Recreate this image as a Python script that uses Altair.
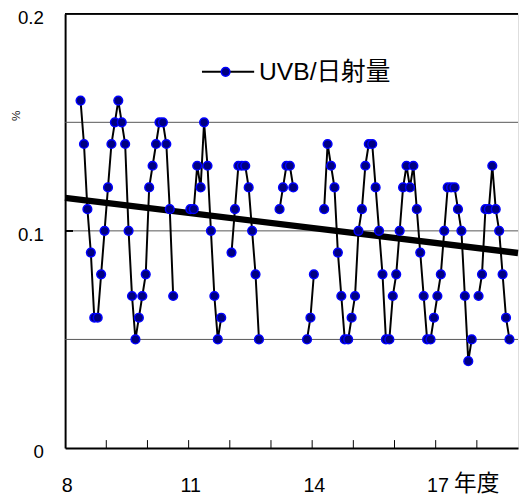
import altair as alt
import pandas as pd

# ---- data ----
first_fy = 8                      # fiscal year of month index 0 (April)
n_months = 132                    # FY8 .. FY18
label_months = [0, 36, 72, 108]
label_texts = ["8", "11", "14", "17"]
y_label_values = [0, 0.1, 0.2]
grid_values = [0.05, 0.1, 0.15]

# monthly UVB / global radiation ratio (%), None = missing month
ratio = [None, None, None, None,
         0.16, 0.14, 0.11, 0.09, 0.06, 0.06, 0.08, 0.10,
         0.12, 0.14, 0.15, 0.16, 0.15, 0.14, 0.10, 0.07, 0.05, 0.06, 0.07, 0.08,
         0.12, 0.13, 0.14, 0.15, 0.15, 0.14, 0.11, 0.07, None, None, None, None,
         0.11, 0.11, 0.13, 0.12, 0.15, 0.13, 0.10, 0.07, 0.05, 0.06, None, None,
         0.09, 0.11, 0.13, 0.13, 0.13, 0.12, 0.10, 0.08, 0.05, None, None, None,
         None, None, 0.11, 0.12, 0.13, 0.13, 0.12, None, None, None, 0.05, 0.06,
         0.08, None, None, 0.11, 0.14, 0.13, 0.12, 0.09, 0.07, 0.05, 0.05, 0.06,
         0.07, 0.10, 0.11, 0.13, 0.14, 0.14, 0.12, 0.10, 0.08, 0.05, 0.05, 0.07,
         0.08, 0.10, 0.12, 0.13, 0.12, 0.13, 0.11, 0.09, 0.07, 0.05, 0.05, 0.06,
         0.07, 0.08, 0.10, 0.12, 0.12, 0.12, 0.11, 0.10, 0.07, 0.04, 0.05, None,
         0.07, 0.08, 0.11, 0.11, 0.13, 0.11, 0.10, 0.08, 0.06, 0.05]

trend_x = [-0.5, 131.5]
trend_y = [0.1152, 0.0898]

series_name = "UVB/日射量"
unit_text = "%"
year_unit = "年度"

# ---- build tables ----
rows = []
seg = 0
prev = None
for i, v in enumerate(ratio):
    if v is None:
        continue
    if prev is None or i != prev + 1:
        seg += 1
    rows.append({"m": i, "v": v, "seg": seg})
    prev = i
df = pd.DataFrame(rows)
trend_df = pd.DataFrame({"m": trend_x, "v": trend_y})
grid_df = pd.DataFrame({"g": grid_values})
bound_df = pd.DataFrame({"b": [-0.5 + 12 * k for k in range(1, n_months // 12)]})
legend_df = pd.DataFrame({"t": [series_name]})
unit_df = pd.DataFrame({"t": [year_unit]})

W, H = 460, 441
FONT = "Liberation Sans, Arial, Noto Sans CJK JP"

label_expr = " : ".join(
    f"datum.value == {m} ? '{t}'" for m, t in zip(label_months, label_texts)
) + " : ''"

xs = alt.Scale(domain=[-0.5, n_months - 0.5], nice=False, zero=False)
ys = alt.Scale(domain=[0, 0.2], nice=False)

x_axis = alt.Axis(values=label_months, labelExpr=label_expr, ticks=False, tickSize=0,
                  grid=False, domainColor="black", domainWidth=2, labelFontSize=20,
                  labelFont=FONT, labelColor="black", labelPadding=28, title=None)
y_axis = alt.Axis(values=y_label_values, format="~g", ticks=False, tickSize=0, grid=False,
                  domainColor="black", domainWidth=2, labelFontSize=19, labelFont=FONT,
                  labelColor="black", labelPadding=22, labelOffset=4, title=unit_text,
                  titleX=-50, titleY=103, titleAngle=270, titleFontSize=12,
                  titleFontWeight="normal", titleFont=FONT, titleColor="black",
                  titleAlign="center", titleBaseline="middle")

grid = alt.Chart(grid_df).mark_rule(color="#555555", strokeWidth=1).encode(
    y=alt.Y("g:Q", scale=ys, axis=y_axis))
top = alt.Chart(grid_df).mark_rule(color="black", strokeWidth=1.5).encode(
    y=alt.datum(0.2, scale=ys))
yticks = alt.Chart(grid_df).mark_rule(color="black", strokeWidth=1.5).encode(
    y=alt.datum(0.1, scale=ys), x=alt.value(0), x2=alt.value(8))
xticks = alt.Chart(bound_df).mark_rule(color="black", strokeWidth=1).encode(
    x=alt.X("b:Q", scale=xs, axis=x_axis), y=alt.value(H - 8), y2=alt.value(H))
trend = alt.Chart(trend_df).mark_line(color="black", strokeWidth=6.5).encode(
    x=alt.X("m:Q", scale=xs), y=alt.Y("v:Q", scale=ys))
line = alt.Chart(df).mark_line(color="black", strokeWidth=2).encode(
    x=alt.X("m:Q", scale=xs), y=alt.Y("v:Q", scale=ys), detail="seg:N")
pts = alt.Chart(df).mark_circle(size=78, color="#000080", stroke="#0000FF",
                                strokeWidth=1.5, opacity=1).encode(
    x=alt.X("m:Q", scale=xs), y=alt.Y("v:Q", scale=ys))

leg_line = alt.Chart(legend_df).mark_rule(color="black", strokeWidth=2).encode(
    x=alt.value(139), x2=alt.value(192), y=alt.value(59))
leg_pt = alt.Chart(legend_df).mark_circle(size=78, color="#000080", stroke="#0000FF",
                                          strokeWidth=1.5, opacity=1).encode(
    x=alt.value(163), y=alt.value(59))
leg_txt = alt.Chart(legend_df).mark_text(align="left", baseline="middle", fontSize=25,
                                         font=FONT, color="black").encode(
    x=alt.value(197), y=alt.value(59), text="t:N")
unit_txt = alt.Chart(unit_df).mark_text(align="left", baseline="middle", fontSize=23,
                                        font=FONT, color="black").encode(
    x=alt.value(395), y=alt.value(H + 37), text="t:N")

chart = alt.layer(grid, top, yticks, xticks, trend, line, pts,
                  leg_line, leg_pt, leg_txt, unit_txt).properties(
    width=W, height=H,
    autosize=alt.AutoSizeParams(type="none"),
    padding={"left": 58, "top": 2, "right": 2, "bottom": 50},
).configure_view(stroke=None).configure(background="white")

chart.save("out.html", embed_options={"renderer": "svg", "actions": False})
